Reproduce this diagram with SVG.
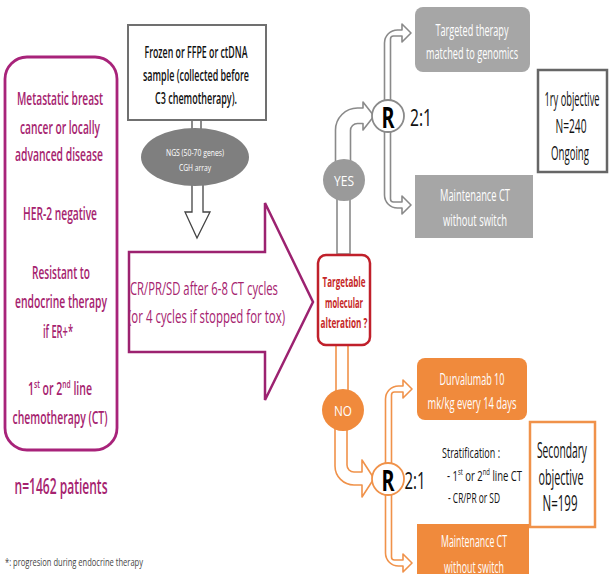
<svg xmlns="http://www.w3.org/2000/svg" width="609" height="574" viewBox="0 0 609 574">
<style>
text{font-family:"Open Sans","Liberation Sans",sans-serif;dominant-baseline:central;text-anchor:middle}
.mg{fill:#a6236f;font-size:17.5px;font-weight:600}
.bk{fill:#111;font-size:15.5px;font-weight:600}
.wh{fill:#fff;font-size:15.5px}
.obj{fill:#111;font-size:20px}
.r{fill:#000;font-size:28px;font-weight:700}
.ratio{fill:#111;font-size:23px}
.gbox{fill:#a6a6a6}
.obox{fill:#f08a3c}
.garrow{fill:#fff;stroke:#8a8a8a;stroke-width:1.6;stroke-linejoin:round}
.oarrow{fill:#fff;stroke:#f0924a;stroke-width:1.6;stroke-linejoin:round}
</style>
<rect width="609" height="574" fill="#fff"/>

<g id="connectors">
  <path d="M192,120 V130 M201,120 V130" stroke="#666" stroke-width="1.5" fill="none"/>
  <path d="M192,185 V212 H185 L197,238 L210,212 H203 V185" fill="#fff" stroke="#444" stroke-width="1.3" stroke-linejoin="miter"/>
  <rect x="337" y="196" width="13" height="58" class="garrow"/>
  <path class="garrow" d="M335.5,165 V130 A22,22 0 0 1 357.5,108 H363 V102 L374,116 L363,130 V123.5 H357.5 A7,7 0 0 0 350.5,130.5 V165 Z"/>
  <path class="garrow" d="M384.5,102 V43 A13,13 0 0 1 397.5,30 H402 V24 L411,33 L402,42 V36 H393.5 A3,3 0 0 0 390.5,39 V102 Z"/>
  <path class="garrow" d="M390.5,130 V199 A3,3 0 0 0 393.5,202 H402 V196 L411,205 L402,214 V208 H397.5 A13,13 0 0 1 384.5,195 V130 Z"/>
  <rect x="336" y="344" width="12" height="50" class="oarrow"/>
  <path class="oarrow" d="M335,425 V466 A19,19 0 0 0 354,485 H362 V497 L374,478.5 L362,460 V472 H354 A7,7 0 0 1 347,465 V425 Z"/>
  <path class="oarrow" d="M385.5,466 V399 A13,13 0 0 1 398.5,386 H403 V380 L412,389 L403,398 V392 H394.5 A3,3 0 0 0 391.5,395 V466 Z"/>
  <path class="oarrow" d="M391.5,492 V557 A3,3 0 0 0 394.5,560 H403 V554 L412,563 L403,572 V566 H398.5 A13,13 0 0 1 385.5,553 V492 Z"/>
</g>

<g id="population">
  <rect x="5" y="57" width="112" height="393" rx="22" fill="#fff" stroke="#a8237a" stroke-width="2.8"/>
  <text class="mg" x="60" y="98" textLength="86" lengthAdjust="spacingAndGlyphs">Metastatic breast</text>
  <text class="mg" x="60" y="127" textLength="80" lengthAdjust="spacingAndGlyphs">cancer or locally</text>
  <text class="mg" x="59" y="154" textLength="88" lengthAdjust="spacingAndGlyphs">advanced disease</text>
  <text class="mg" x="60" y="213" textLength="74" lengthAdjust="spacingAndGlyphs">HER-2 negative</text>
  <text class="mg" x="61" y="272" textLength="58" lengthAdjust="spacingAndGlyphs">Resistant to</text>
  <text class="mg" x="61" y="301" textLength="92" lengthAdjust="spacingAndGlyphs">endocrine therapy</text>
  <text class="mg" x="58" y="331" textLength="30" lengthAdjust="spacingAndGlyphs">if ER+*</text>
  <text class="mg" x="60" y="388" textLength="64" lengthAdjust="spacingAndGlyphs">1<tspan font-size="11" dy="-5">st</tspan><tspan dy="5"> or 2</tspan><tspan font-size="11" dy="-5">nd</tspan><tspan dy="5"> line</tspan></text>
  <text class="mg" x="60" y="417" textLength="95" lengthAdjust="spacingAndGlyphs">chemotherapy (CT)</text>
</g>

<g id="patients">
  <text class="mg" x="61" y="485" style="font-size:22px" textLength="93" lengthAdjust="spacingAndGlyphs">n=1462 patients</text>
</g>

<g id="footnote">
  <text x="5" y="562" style="text-anchor:start;font-size:10.5px;fill:#444" textLength="138" lengthAdjust="spacingAndGlyphs">*: progresion during endocrine therapy</text>
</g>

<g id="sample">
  <rect x="128" y="25" width="138" height="95" fill="#fff" stroke="#707070" stroke-width="2"/>
  <text class="bk" x="196" y="52" textLength="103" lengthAdjust="spacingAndGlyphs">Frozen or FFPE or ctDNA</text>
  <text class="bk" x="196" y="75" textLength="106" lengthAdjust="spacingAndGlyphs">sample (collected before</text>
  <text class="bk" x="196" y="98" textLength="82" lengthAdjust="spacingAndGlyphs">C3 chemotherapy).</text>
</g>

<g id="ngs">
  <ellipse cx="195" cy="157" rx="54" ry="29" fill="#7f7f7f"/>
  <text x="195" y="152" style="fill:#fff;font-size:9.5px" textLength="58" lengthAdjust="spacingAndGlyphs">NGS (50-70 genes)</text>
  <text x="195" y="167" style="fill:#fff;font-size:9.5px" textLength="32" lengthAdjust="spacingAndGlyphs">CGH array</text>
</g>

<g id="response">
  <path d="M129,252 H265 V203 L313,302 L265,400 V352 H129 Z" fill="#fff" stroke="#9c2270" stroke-width="2.5" stroke-linejoin="miter"/>
  <text class="mg" x="130" y="288" style="text-anchor:start;font-weight:500" textLength="148" lengthAdjust="spacingAndGlyphs">CR/PR/SD after 6-8 CT cycles</text>
  <text class="mg" x="128" y="316" style="text-anchor:start;font-weight:500" textLength="157" lengthAdjust="spacingAndGlyphs">(or 4 cycles if stopped for tox)</text>
</g>

<g id="targetable">
  <rect x="318" y="255" width="52" height="90" rx="8" fill="#fff" stroke="#c0202b" stroke-width="2.5"/>
  <text x="344" y="282" style="fill:#c62828;font-size:13.5px;font-weight:700" textLength="43" lengthAdjust="spacingAndGlyphs">Targetable</text>
  <text x="344" y="303" style="fill:#c62828;font-size:13.5px;font-weight:700" textLength="38" lengthAdjust="spacingAndGlyphs">molecular</text>
  <text x="344" y="323" style="fill:#c62828;font-size:13.5px;font-weight:700" textLength="47" lengthAdjust="spacingAndGlyphs">alteration ?</text>
</g>

<g id="yes">
  <circle cx="344" cy="180" r="21" fill="#9a9a9a"/>
  <text x="344" y="180" style="fill:#fff;font-size:14px" textLength="20" lengthAdjust="spacingAndGlyphs">YES</text>
</g>

<g id="r-yes">
  <circle cx="388" cy="116" r="16" fill="#fff" stroke="#8a8a8a" stroke-width="1.8"/>
  <text class="r" x="388" y="117" textLength="13" lengthAdjust="spacingAndGlyphs">R</text>
  <text class="ratio" x="421" y="117" textLength="22" lengthAdjust="spacingAndGlyphs">2:1</text>
</g>

<g id="targeted-therapy">
  <rect x="415" y="7" width="115" height="65" rx="8" class="gbox"/>
  <text class="wh" x="472" y="30" textLength="73" lengthAdjust="spacingAndGlyphs">Targeted therapy</text>
  <text class="wh" x="472" y="53" textLength="92" lengthAdjust="spacingAndGlyphs">matched to genomics</text>
</g>

<g id="maintenance-gray">
  <rect x="415" y="175" width="118" height="63" class="gbox"/>
  <text class="wh" x="475" y="195" textLength="70" lengthAdjust="spacingAndGlyphs">Maintenance CT</text>
  <text class="wh" x="475" y="220" textLength="64" lengthAdjust="spacingAndGlyphs">without switch</text>
</g>

<g id="primary-objective">
  <rect x="538" y="70" width="69" height="102" fill="#fff" stroke="#666" stroke-width="2.5"/>
  <text class="obj" x="572" y="98" textLength="55" lengthAdjust="spacingAndGlyphs">1ry objective</text>
  <text class="obj" x="571" y="125" textLength="31" lengthAdjust="spacingAndGlyphs">N=240</text>
  <text class="obj" x="570" y="152" textLength="38" lengthAdjust="spacingAndGlyphs">Ongoing</text>
</g>

<g id="no">
  <circle cx="343" cy="410" r="21" fill="#f08a3c"/>
  <text x="343" y="410" style="fill:#fff;font-size:14px" textLength="18" lengthAdjust="spacingAndGlyphs">NO</text>
</g>

<g id="r-no">
  <circle cx="388" cy="479" r="16" fill="#fff" stroke="#f0924a" stroke-width="1.8"/>
  <text class="r" x="388" y="480" textLength="13" lengthAdjust="spacingAndGlyphs">R</text>
  <text class="ratio" x="415" y="480" textLength="21" lengthAdjust="spacingAndGlyphs">2:1</text>
</g>

<g id="stratification">
  <text x="442" y="452" style="text-anchor:start;fill:#111;font-size:14.5px" textLength="58" lengthAdjust="spacingAndGlyphs">Stratification :</text>
  <text x="447" y="475" style="text-anchor:start;fill:#111;font-size:14.5px" textLength="75" lengthAdjust="spacingAndGlyphs">- 1<tspan font-size="9" dy="-4">st</tspan><tspan dy="4"> or 2</tspan><tspan font-size="9" dy="-4">nd</tspan><tspan dy="4"> line CT</tspan></text>
  <text x="448" y="497" style="text-anchor:start;fill:#111;font-size:14.5px" textLength="52" lengthAdjust="spacingAndGlyphs">- CR/PR or SD</text>
</g>

<g id="durvalumab">
  <rect x="417" y="358" width="110" height="62" rx="8" class="obox"/>
  <text class="wh" x="472" y="379" textLength="65" lengthAdjust="spacingAndGlyphs">Durvalumab 10</text>
  <text class="wh" x="472" y="403" textLength="89" lengthAdjust="spacingAndGlyphs">mk/kg every 14 days</text>
</g>

<g id="secondary-objective">
  <rect x="530" y="422" width="65" height="105" fill="#fff" stroke="#f0924a" stroke-width="2.5"/>
  <text class="obj" x="562" y="450" style="font-size:21px" textLength="50" lengthAdjust="spacingAndGlyphs">Secondary</text>
  <text class="obj" x="561" y="477" style="font-size:21px" textLength="45" lengthAdjust="spacingAndGlyphs">objective</text>
  <text class="obj" x="560" y="503" style="font-size:21px" textLength="35" lengthAdjust="spacingAndGlyphs">N=199</text>
</g>

<g id="maintenance-orange">
  <rect x="417" y="524" width="112" height="60" class="obox"/>
  <text class="wh" x="474" y="541" textLength="66" lengthAdjust="spacingAndGlyphs">Maintenance  CT</text>
  <text class="wh" x="474" y="567" textLength="60" lengthAdjust="spacingAndGlyphs">without switch</text>
</g>
</svg>
